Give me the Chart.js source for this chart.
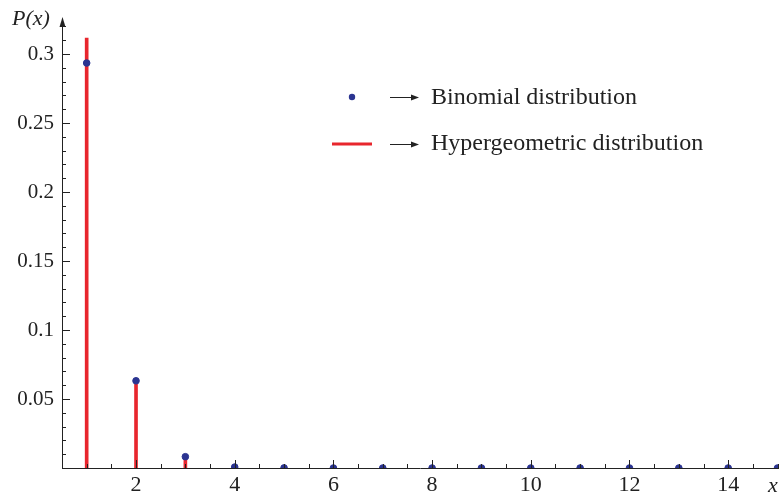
<!DOCTYPE html>
<html>
<head>
<meta charset="utf-8">
<script src="https://cdn.jsdelivr.net/npm/chart.js@4"></script>
<style>
  html, body { margin: 0; padding: 0; background: #fff; }
  #wrap { width: 784px; height: 497px; position: relative; }
</style>
</head>
<body>
<div id="wrap"><canvas id="distChart"></canvas></div>
<script>
const xValues = [1, 2, 3, 4, 5, 6, 7, 8, 9, 10, 11, 12, 13, 14, 15];
const binomial = [0.2935, 0.0632, 0.0082, 0.0007, 0.00006, 0, 0, 0, 0, 0, 0, 0, 0, 0, 0];
const hypergeometric = [0.3116, 0.0609, 0.0065, 0.0003, 0.00002, 0, 0, 0, 0, 0, 0, 0, 0, 0, 0];
const yTicks = [0.05, 0.1, 0.15, 0.2, 0.25, 0.3];
const xTicks = [2, 4, 6, 8, 10, 12, 14];
const legendLabels = ['Binomial distribution', 'Hypergeometric distribution'];

const BLUE = '#2b3491';
const RED = '#e8262d';
const INK = '#222';
const FONT = '"Liberation Serif", "Times New Roman", serif';

// inward ticks, arrow, axis titles and the legend
const axisDecor = {
    id: 'axisDecor',
    afterDraw(chart) {
        const ctx = chart.ctx;
        const x = chart.scales.x, y = chart.scales.y;
        const area = chart.chartArea;
        const x0 = area.left, y0 = area.bottom;
        ctx.save();
        ctx.strokeStyle = INK;
        ctx.fillStyle = INK;
        ctx.lineWidth = 1;

        // axis lines
        ctx.beginPath();
        ctx.moveTo(x0 + 0.5, y0);
        ctx.lineTo(x0 + 0.5, area.top + 4);
        ctx.moveTo(x0, y0 + 0.5);
        ctx.lineTo(area.right, y0 + 0.5);
        ctx.stroke();
        // arrow head on y axis
        ctx.beginPath();
        ctx.moveTo(x0 + 0.5, area.top - 6);
        ctx.lineTo(x0 - 2.5, area.top + 4);
        ctx.lineTo(x0 + 3.5, area.top + 4);
        ctx.closePath();
        ctx.fill();

        // y ticks (major every 0.05, minor every 0.01)
        ctx.beginPath();
        for (let i = 1; i <= 32; i++) {
            const v = i / 100;
            const py = Math.round(y.getPixelForValue(v)) + 0.5;
            const len = (i % 5 === 0) ? 8 : 4;
            ctx.moveTo(x0, py);
            ctx.lineTo(x0 + len, py);
        }
        // x ticks (major every 2, minor every 0.5)
        for (let v = 1; v <= 15; v += 0.5) {
            const px = Math.round(x.getPixelForValue(v)) + 0.5;
            const len = (v % 2 === 0) ? 8 : 4;
            ctx.moveTo(px, y0);
            ctx.lineTo(px, y0 - len);
        }
        ctx.stroke();

        // axis titles
        ctx.font = 'italic 22px ' + FONT;
        ctx.textAlign = 'left';
        ctx.textBaseline = 'alphabetic';
        ctx.fillText('P(x)', 12, 25);
        ctx.fillText('x', 768, 492);

        // legend
        ctx.fillStyle = BLUE;
        ctx.beginPath();
        ctx.arc(352, 97, 3.2, 0, Math.PI * 2);
        ctx.fill();
        ctx.strokeStyle = RED;
        ctx.lineWidth = 3;
        ctx.beginPath();
        ctx.moveTo(332, 144);
        ctx.lineTo(372, 144);
        ctx.stroke();

        ctx.strokeStyle = INK;
        ctx.fillStyle = INK;
        ctx.lineWidth = 1;
        [97, 144].forEach(function (ly) {
            ctx.beginPath();
            ctx.moveTo(390, ly + 0.5);
            ctx.lineTo(413, ly + 0.5);
            ctx.stroke();
            ctx.beginPath();
            ctx.moveTo(419, ly + 0.5);
            ctx.lineTo(411, ly - 2.5);
            ctx.lineTo(411, ly + 3.5);
            ctx.closePath();
            ctx.fill();
        });
        ctx.font = '24px ' + FONT;
        ctx.textBaseline = 'middle';
        ctx.fillText(legendLabels[0], 431, 98);
        ctx.fillText(legendLabels[1], 431, 144);
        ctx.restore();
    }
};

const distChart = new Chart(document.getElementById('distChart'), {
    data: {
        datasets: [{
            type: 'bar',
            label: legendLabels[1],
            data: xValues.map((v, i) => ({ x: v, y: hypergeometric[i] })),
            backgroundColor: RED,
            barThickness: 3,
            order: 2
        }, {
            type: 'scatter',
            label: legendLabels[0],
            data: xValues.map((v, i) => ({ x: v, y: binomial[i] })),
            backgroundColor: BLUE,
            borderColor: BLUE,
            pointRadius: 3.3,
            order: 1
        }]
    },
    options: {
        responsive: true,
        maintainAspectRatio: false,
        animation: false,
        layout: { padding: { left: 0, right: 0, top: 23, bottom: 0 } },
        plugins: {
            legend: { display: false },
            tooltip: { enabled: false }
        },
        scales: {
            x: {
                type: 'linear',
                min: 0.5,
                max: 15.03,
                offset: false,
                grid: { display: false, drawTicks: false },
                border: { display: false },
                afterBuildTicks: s => { s.ticks = xTicks.map(v => ({ value: v })); },
                afterFit: s => { s.height = 29; },
                ticks: {
                    font: { family: FONT, size: 22 },
                    color: INK,
                    padding: 4,
                    maxRotation: 0,
                    autoSkip: false,
                    callback: v => String(v)
                }
            },
            y: {
                type: 'linear',
                min: 0,
                max: 0.3225,
                grid: { display: false, drawTicks: false },
                border: { display: false },
                afterBuildTicks: s => { s.ticks = yTicks.map(v => ({ value: v })); },
                afterFit: s => { s.width = 62; },
                ticks: {
                    font: { family: FONT, size: 21 },
                    color: INK,
                    padding: 8,
                    autoSkip: false,
                    callback: v => String(Math.round(v * 100) / 100)
                }
            }
        }
    },
    plugins: [axisDecor]
});
</script>
</body>
</html>
